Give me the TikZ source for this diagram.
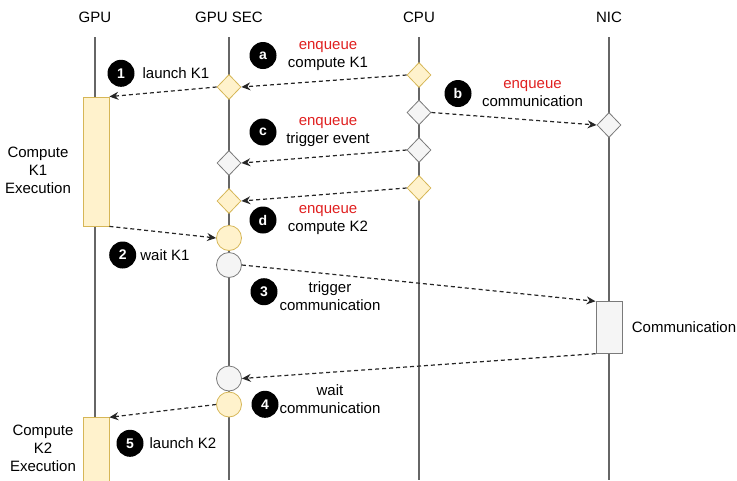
\documentclass[tikz,border=0pt]{standalone}
\usepackage{fontspec}
\setmainfont{Liberation Sans}
\usetikzlibrary{shapes.geometric,arrows.meta}
\definecolor{kfill}{HTML}{FFF2CC}
\definecolor{kline}{HTML}{D6B656}
\definecolor{gfill}{HTML}{F5F5F5}
\definecolor{gline}{HTML}{7A7A7A}
\definecolor{enq}{HTML}{E02020}

\begin{document}
\begin{tikzpicture}[x=1pt,y=-1pt,
  every node/.style={font=\fontsize{15}{18}\selectfont},
  life/.style={draw=black!60,line width=1.3pt},
  ydiam/.style={diamond,draw=kline,fill=kfill,thick,inner sep=0pt,minimum width=24pt,minimum height=25pt},
  gdiam/.style={ydiam,draw=gline,fill=gfill},
  ycirc/.style={circle,draw=kline,fill=kfill,thick,inner sep=0pt,minimum size=25pt},
  gcirc/.style={ycirc,draw=gline,fill=gfill},
  kbox/.style={rectangle,draw=kline,fill=kfill,thick,inner sep=0pt,minimum width=26pt},
  gbox/.style={kbox,draw=gline,fill=gfill},
  badge/.style={circle,fill=black,text=white,inner sep=0pt,minimum size=27pt,font=\fontsize{14}{16}\selectfont\bfseries},
  msg/.style={dashed,dash pattern=on 4pt off 3pt,line width=1.2pt,black!85,-{Stealth[length=9pt,width=8pt,inset=3pt]}},
  txt/.style={align=center}]
  \useasboundingbox (0,0) rectangle (737,480);

  % lifelines
  \foreach \x/\lbl [count=\i] in {95/GPU,229/GPU SEC,419/CPU,609/NIC} {
    \node (h\i) at (\x,17) {\lbl};
    \draw[life] (\x,37) -- (\x,480);
  }

  % GPU
  \node[kbox,minimum height=129pt] (k1) at (96,161.5) {};
  \node[kbox,minimum height=64pt]  (k2) at (96,449.7) {};
  \node[txt] (k1txt) at (38,170) {Compute\\K1\\Execution};
  \node[txt] (k2txt) at (43,448) {Compute\\K2\\Execution};

  % GPU SEC
  \node[ydiam] (sa) at (229,87) {};
  \node[gdiam] (sc) at (229,163) {};
  \node[ydiam] (sd) at (229,201) {};
  \node[ycirc] (w1) at (229,238) {};
  \node[gcirc] (t1) at (229,265) {};
  \node[gcirc] (w2) at (229,378.5) {};
  \node[ycirc] (l2) at (229,404.5) {};

  % CPU
  \node[ydiam] (ca) at (419,75) {};
  \node[gdiam] (cb) at (419,112.5) {};
  \node[gdiam] (cc) at (419,150) {};
  \node[ydiam] (cd) at (419,188) {};

  % NIC
  \node[gdiam] (nb) at (609,125) {};
  \node[gbox,minimum height=51.6pt,minimum width=26.7pt] (comm) at (609.3,327.5) {};
  \node (commtxt) at (684,327) {Communication};

  % messages
  \draw[msg] (ca.west) -- (sa.east);
  \draw[msg] (sa.west) -- (k1.north east);
  \draw[msg] (cb.east) -- (nb.west);
  \draw[msg] (cc.west) -- (sc.east);
  \draw[msg] (cd.west) -- (sd.east);
  \draw[msg] (k1.south east) -- (w1.west);
  \draw[msg] (t1.east) -- (comm.north west);
  \draw[msg] (comm.south west) -- (w2.east);
  \draw[msg] (l2.west) -- (k2.north east);

  % badges and labels
  \node[badge] (ba) at (263,55.5) {a};
  \node[txt] (la) at (328,56) {\textcolor{enq}{enqueue}\\compute K1};
  \node[badge] (bb) at (458,93.5) {b};
  \node[txt] (lb) at (532.5,93.5) {\textcolor{enq}{enqueue}\\communication};
  \node[badge] (bc) at (263,132) {c};
  \node[txt] (lc) at (328,132.5) {\textcolor{enq}{enqueue}\\trigger event};
  \node[badge] (bd) at (263,220) {d};
  \node[txt] (ld) at (328,220) {\textcolor{enq}{enqueue}\\compute K2};

  \node[badge] (b1) at (121,73.3) {1};
  \node (l1) at (176,73) {launch K1};
  \node[badge] (b2) at (122.7,255) {2};
  \node (l2txt) at (165,255) {wait K1};
  \node[badge] (b3) at (264,291.7) {3};
  \node[txt] (l3) at (330,296.5) {trigger\\communication};
  \node[badge] (b4) at (265,404.3) {4};
  \node[txt] (l4) at (330,399) {wait\\communication};
  \node[badge] (b5) at (130,443.3) {5};
  \node (l5) at (183,443) {launch K2};
\end{tikzpicture}
\end{document}
